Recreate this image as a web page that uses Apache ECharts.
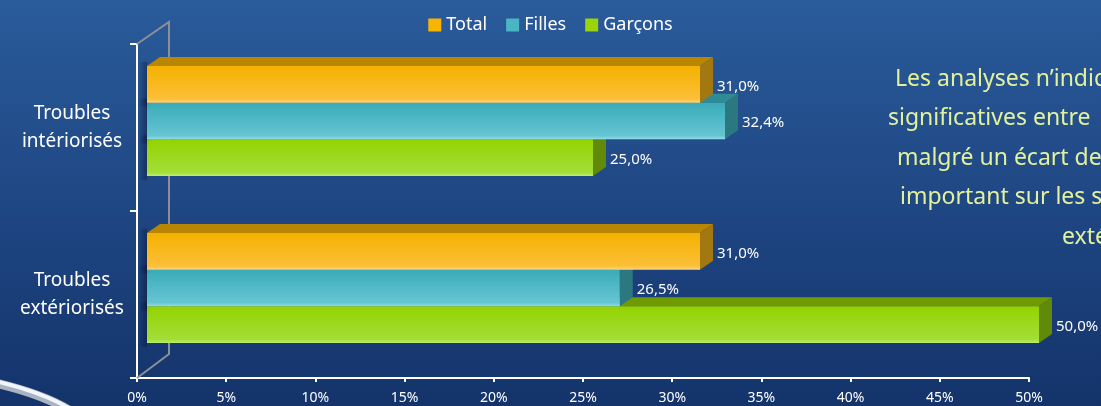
<!DOCTYPE html>
<html>
<head>
<meta charset="utf-8">
<title>Troubles intériorisés / extériorisés</title>
<script src="https://cdn.jsdelivr.net/npm/echarts@6/dist/echarts.min.js"></script>
<style>
  *{margin:0;padding:0;}
  html,body{width:1101px;height:406px;overflow:hidden;background:#1f4784;}
  #chart{width:1101px;height:406px;}
</style>
</head>
<body>
<div id="chart"></div>
<script>
// données
var categories = ['Troubles\nintériorisés', 'Troubles\nextériorisés'];
var seriesNames = ['Total', 'Filles', 'Garçons'];
var totalValues = [31.0, 31.0];
var fillesValues = [32.4, 26.5];
var garconsValues = [25.0, 50.0];
var noteLines = [
  'Les analyses n’indiquent pas',
  'significatives entre',
  'malgré un écart de',
  'important sur les scores',
  'extériorisés'
];
var noteLeft = [895, 888, 897, 900, 1062];

// mise en page
var GRID_LEFT = 137, GRID_TOP = 44, GRID_RIGHT = 72, GRID_BOTTOM = 28;
var H = 406;
var DX = 13, DY = 9;          // profondeur des barres 3D
var FRONT_SHIFT = 10;         // face avant décalée par rapport à l'axe
var BAR_RATIO = 0.22;
var CENTER_SHIFT = -6.5;

var styles = [
  {legend: '#f7b400', top: '#b88600', side: '#a47810', front: ['#f5b100', '#fbbf38', '#fdd47e']},
  {legend: '#4bb6c3', top: '#2f8b95', side: '#2c7880', front: ['#3aabb8', '#66c5d3', '#93dde8']},
  {legend: '#9bd40c', top: '#6f9b00', side: '#628a0a', front: ['#94d300', '#a3de38', '#bdee6e']}
];

function fmt(v) {
  return v.toFixed(1).replace('.', ',') + '%';
}

function barRenderer(k) {
  return function (params, api) {
    var v = api.value(0), c = api.value(1);
    var start = api.coord([0, c]);
    var end = api.coord([v, c]);
    var band = api.size([0, 1])[1];
    var h = band * BAR_RATIO;
    var x0 = start[0] + FRONT_SHIFT, x1 = end[0] + FRONT_SHIFT;
    var y0 = start[1] + CENTER_SHIFT - 1.5 * h + k * h;
    var y1 = y0 + h;
    var st = styles[k];
    return {
      type: 'group',
      children: [
        {
          type: 'rect',
          shape: {x: x0 - 8, y: y0 - 4, width: 8, height: h + 8},
          style: {
            fill: new echarts.graphic.LinearGradient(0, 0, 1, 0, [
              {offset: 0, color: 'rgba(5,15,40,0)'},
              {offset: 1, color: 'rgba(5,15,40,0.35)'}
            ]),
            shadowBlur: 6,
            shadowColor: 'rgba(5,15,40,0.4)'
          }
        },
        {
          type: 'polygon',
          shape: {points: [[x0, y0], [x1, y0], [x1 + DX, y0 - DY], [x0 + DX, y0 - DY]]},
          style: {fill: st.top}
        },
        {
          type: 'polygon',
          shape: {points: [[x1, y0], [x1 + DX, y0 - DY], [x1 + DX, y1 - DY], [x1, y1]]},
          style: {fill: st.side}
        },
        {
          type: 'rect',
          shape: {x: x0, y: y0, width: x1 - x0, height: h},
          style: {fill: new echarts.graphic.LinearGradient(0, 0, 0, 1, [
            {offset: 0, color: st.front[0]},
            {offset: 0.9, color: st.front[1]},
            {offset: 1, color: st.front[2]}
          ])}
        },
        {
          type: 'text',
          style: {
            text: fmt(v),
            x: x1 + DX + 4,
            y: (y0 + y1) / 2 + 2,
            fill: '#ffffff',
            font: '15px "Noto Sans"',
            align: 'left',
            verticalAlign: 'middle'
          }
        }
      ]
    };
  };
}

function toData(values) {
  return values.map(function (v, i) { return [v, i]; });
}

var allValues = [totalValues, fillesValues, garconsValues];
var series = seriesNames.map(function (name, k) {
  return {
    name: name,
    type: 'custom',
    renderItem: barRenderer(k),
    encode: {x: 0, y: 1},
    data: toData(allValues[k]),
    itemStyle: {color: styles[k].legend},
    z: 10 - k
  };
});

// paroi latérale 3D et décor
var yAxisBottom = H - GRID_BOTTOM;
var graphics = [
  {
    type: 'polyline',
    shape: {points: [
      [GRID_LEFT, GRID_TOP], [GRID_LEFT + 32, GRID_TOP - 22],
      [GRID_LEFT + 32, yAxisBottom - 24], [GRID_LEFT, yAxisBottom]
    ]},
    style: {stroke: '#8c8f96', lineWidth: 2, fill: null},
    z: 1
  },
  {
    type: 'bezierCurve',
    shape: {x1: -5, y1: 383, cpx1: 25, cpy1: 390, cpx2: 50, cpy2: 398, x2: 72, y2: 412},
    style: {stroke: '#a9b3c2', lineWidth: 9, fill: null},
    z: 1
  },
  {
    type: 'bezierCurve',
    shape: {x1: -5, y1: 381, cpx1: 25, cpy1: 388, cpx2: 50, cpy2: 396, x2: 72, y2: 410},
    style: {stroke: '#f2f5f9', lineWidth: 4, fill: null},
    z: 1
  }
];
noteLines.forEach(function (line, i) {
  graphics.push({
    type: 'text',
    style: {
      text: line,
      x: noteLeft[i],
      y: 79 + i * 39.5,
      fill: '#e3f29a',
      font: '23px "Noto Sans"',
      align: 'left',
      verticalAlign: 'middle',
      shadowColor: 'rgba(225,240,140,0.6)',
      shadowBlur: 4
    },
    z: 5
  });
});

var chart = echarts.init(document.getElementById('chart'));
chart.setOption({
  animation: false,
  backgroundColor: new echarts.graphic.LinearGradient(0, 0, 0, 1, [
    {offset: 0, color: '#2a5b9b'},
    {offset: 1, color: '#14336b'}
  ]),
  textStyle: {fontFamily: 'Noto Sans'},
  legend: {
    data: seriesNames,
    top: 11,
    left: 'center',
    icon: 'rect',
    itemWidth: 13,
    itemHeight: 13,
    itemGap: 19,
    textStyle: {color: '#ffffff', fontSize: 18, fontFamily: 'Noto Sans'}
  },
  grid: {left: GRID_LEFT, right: GRID_RIGHT, top: GRID_TOP, bottom: GRID_BOTTOM, containLabel: false},
  xAxis: {
    type: 'value',
    min: 0,
    max: 50,
    interval: 5,
    axisLine: {show: true, lineStyle: {color: '#ffffff', width: 2}},
    axisTick: {show: true, length: 4, lineStyle: {color: '#ffffff', width: 2}},
    splitLine: {show: false},
    axisLabel: {color: '#ffffff', fontSize: 14, margin: 13, formatter: '{value}%'}
  },
  yAxis: {
    type: 'category',
    data: categories,
    inverse: true,
    axisLine: {show: true, lineStyle: {color: '#ffffff', width: 2}},
    axisTick: {show: true, length: 7, lineStyle: {color: '#ffffff', width: 2}},
    axisLabel: {color: '#ffffff', fontSize: 19, lineHeight: 28, align: 'center', margin: 65}
  },
  graphic: graphics,
  series: series
});
</script>
</body>
</html>
